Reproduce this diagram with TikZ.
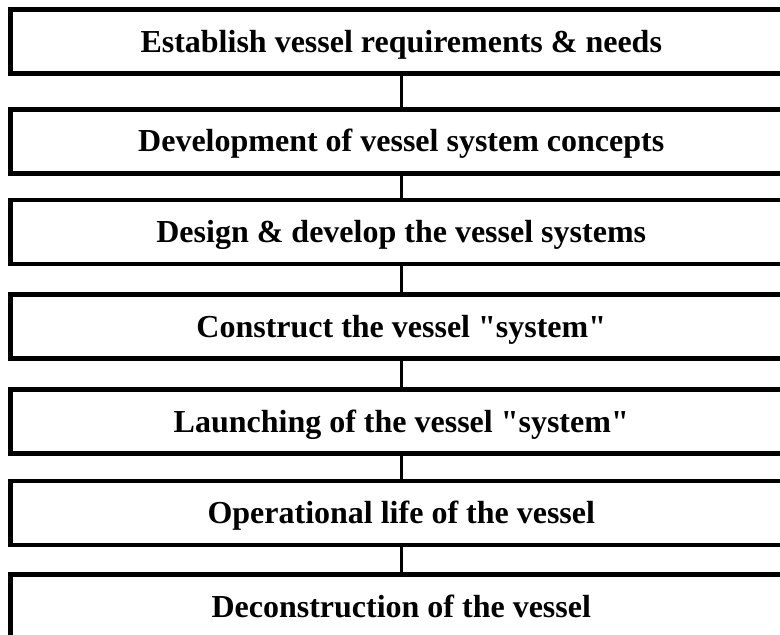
\documentclass[tikz,border=0pt]{standalone}
\usepackage{fontspec}
\setmainfont{Liberation Serif}[Ligatures=TeXOff]
\usepackage{tikz}

\begin{document}
\begin{tikzpicture}[x=1pt, y=-1pt,
  stage/.style={draw, line width=4.5pt, inner sep=0pt, minimum width=781.5pt,
    minimum height=64pt, text height=21pt, text depth=0pt,
    font=\fontsize{32}{38}\selectfont\bfseries},
  link/.style={line width=3.5pt}]
			\useasboundingbox (0,0) rectangle (780,635);
			\clip (0,0) rectangle (780,635);
			\fill[white] (0,0) rectangle (780,635);
			\node[stage] (establish) at (401.25,41.5) {Establish vessel requirements \& needs};
			\node[stage] (concepts) at (401.25,141.25) {Development of vessel system concepts};
			\node[stage] (design) at (401.25,232) {Design \& develop the vessel systems};
			\node[stage] (construct) at (401.25,326.5) {Construct the vessel "system"};
			\node[stage] (launch) at (401.25,421.5) {Launching of the vessel "system"};
			\node[stage] (operate) at (401.25,512.75) {Operational life of the vessel};
			\node[stage] (deconstruct) at (401.25,606.5) {Deconstruction of the vessel};
			\draw[link] (establish) -- (concepts);
			\draw[link] (concepts) -- (design);
			\draw[link] (design) -- (construct);
			\draw[link] (construct) -- (launch);
			\draw[link] (launch) -- (operate);
			\draw[link] (operate) -- (deconstruct);
		\end{tikzpicture}
\end{document}
